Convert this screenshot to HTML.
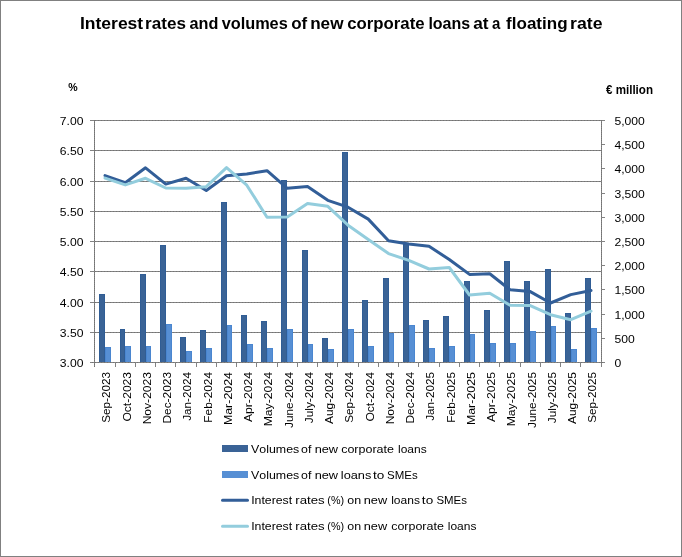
<!DOCTYPE html>
<html><head><meta charset="utf-8"><title>Interest rates and volumes of new corporate loans at a floating rate</title>
<style>html,body{margin:0;padding:0;background:#fff;}svg{display:block;will-change:transform;}text{font-family:'Liberation Sans', Arial, sans-serif;fill:#000;font-kerning:none;}</style></head><body>
<svg width="682" height="557" viewBox="0 0 682 557">
<rect x="0" y="0" width="682" height="557" fill="#fff"/>
<rect x="0.5" y="0.5" width="681" height="556" fill="none" stroke="#808080" stroke-width="1"/>
<path d="M90 120.5H601 M90 150.5H601 M90 181.5H601 M90 211.5H601 M90 241.5H601 M90 271.5H601 M90 302.5H601 M90 332.5H601" stroke="#838383" stroke-width="1" fill="none"/>
<path d="M90 120.5H601 M90 150.5H601 M90 181.5H601 M90 211.5H601 M90 241.5H601 M90 271.5H601 M90 302.5H601 M90 332.5H601" stroke="#737373" stroke-width="1" fill="none" stroke-dasharray="1 2" stroke-dashoffset="1"/>
<rect x="99" y="294" width="6" height="69" fill="#305D95"/><rect x="100" y="295" width="4" height="68" fill="#3A6396"/><rect x="105" y="347" width="6" height="16" fill="#4A86D0"/><rect x="106" y="348" width="4" height="15" fill="#578FD4"/><rect x="120" y="329" width="5" height="34" fill="#305D95"/><rect x="121" y="330" width="3" height="33" fill="#3A6396"/><rect x="125" y="346" width="6" height="17" fill="#4A86D0"/><rect x="126" y="347" width="4" height="16" fill="#578FD4"/><rect x="140" y="274" width="6" height="89" fill="#305D95"/><rect x="141" y="275" width="4" height="88" fill="#3A6396"/><rect x="146" y="346" width="5" height="17" fill="#4A86D0"/><rect x="147" y="347" width="3" height="16" fill="#578FD4"/><rect x="160" y="245" width="6" height="118" fill="#305D95"/><rect x="161" y="246" width="4" height="117" fill="#3A6396"/><rect x="166" y="324" width="6" height="39" fill="#4A86D0"/><rect x="167" y="325" width="4" height="38" fill="#578FD4"/><rect x="180" y="337" width="6" height="26" fill="#305D95"/><rect x="181" y="338" width="4" height="25" fill="#3A6396"/><rect x="186" y="351" width="6" height="12" fill="#4A86D0"/><rect x="187" y="352" width="4" height="11" fill="#578FD4"/><rect x="200" y="330" width="6" height="33" fill="#305D95"/><rect x="201" y="331" width="4" height="32" fill="#3A6396"/><rect x="206" y="348" width="6" height="15" fill="#4A86D0"/><rect x="207" y="349" width="4" height="14" fill="#578FD4"/><rect x="221" y="202" width="6" height="161" fill="#305D95"/><rect x="222" y="203" width="4" height="160" fill="#3A6396"/><rect x="227" y="325" width="5" height="38" fill="#4A86D0"/><rect x="228" y="326" width="3" height="37" fill="#578FD4"/><rect x="241" y="315" width="6" height="48" fill="#305D95"/><rect x="242" y="316" width="4" height="47" fill="#3A6396"/><rect x="247" y="344" width="6" height="19" fill="#4A86D0"/><rect x="248" y="345" width="4" height="18" fill="#578FD4"/><rect x="261" y="321" width="6" height="42" fill="#305D95"/><rect x="262" y="322" width="4" height="41" fill="#3A6396"/><rect x="267" y="348" width="6" height="15" fill="#4A86D0"/><rect x="268" y="349" width="4" height="14" fill="#578FD4"/><rect x="281" y="180" width="6" height="183" fill="#305D95"/><rect x="282" y="181" width="4" height="182" fill="#3A6396"/><rect x="287" y="329" width="6" height="34" fill="#4A86D0"/><rect x="288" y="330" width="4" height="33" fill="#578FD4"/><rect x="302" y="250" width="6" height="113" fill="#305D95"/><rect x="303" y="251" width="4" height="112" fill="#3A6396"/><rect x="308" y="344" width="5" height="19" fill="#4A86D0"/><rect x="309" y="345" width="3" height="18" fill="#578FD4"/><rect x="322" y="338" width="6" height="25" fill="#305D95"/><rect x="323" y="339" width="4" height="24" fill="#3A6396"/><rect x="328" y="349" width="6" height="14" fill="#4A86D0"/><rect x="329" y="350" width="4" height="13" fill="#578FD4"/><rect x="342" y="152" width="6" height="211" fill="#305D95"/><rect x="343" y="153" width="4" height="210" fill="#3A6396"/><rect x="348" y="329" width="6" height="34" fill="#4A86D0"/><rect x="349" y="330" width="4" height="33" fill="#578FD4"/><rect x="362" y="300" width="6" height="63" fill="#305D95"/><rect x="363" y="301" width="4" height="62" fill="#3A6396"/><rect x="368" y="346" width="6" height="17" fill="#4A86D0"/><rect x="369" y="347" width="4" height="16" fill="#578FD4"/><rect x="383" y="278" width="6" height="85" fill="#305D95"/><rect x="384" y="279" width="4" height="84" fill="#3A6396"/><rect x="389" y="333" width="5" height="30" fill="#4A86D0"/><rect x="390" y="334" width="3" height="29" fill="#578FD4"/><rect x="403" y="244" width="6" height="119" fill="#305D95"/><rect x="404" y="245" width="4" height="118" fill="#3A6396"/><rect x="409" y="325" width="6" height="38" fill="#4A86D0"/><rect x="410" y="326" width="4" height="37" fill="#578FD4"/><rect x="423" y="320" width="6" height="43" fill="#305D95"/><rect x="424" y="321" width="4" height="42" fill="#3A6396"/><rect x="429" y="348" width="6" height="15" fill="#4A86D0"/><rect x="430" y="349" width="4" height="14" fill="#578FD4"/><rect x="443" y="316" width="6" height="47" fill="#305D95"/><rect x="444" y="317" width="4" height="46" fill="#3A6396"/><rect x="449" y="346" width="6" height="17" fill="#4A86D0"/><rect x="450" y="347" width="4" height="16" fill="#578FD4"/><rect x="464" y="281" width="6" height="82" fill="#305D95"/><rect x="465" y="282" width="4" height="81" fill="#3A6396"/><rect x="470" y="334" width="5" height="29" fill="#4A86D0"/><rect x="471" y="335" width="3" height="28" fill="#578FD4"/><rect x="484" y="310" width="6" height="53" fill="#305D95"/><rect x="485" y="311" width="4" height="52" fill="#3A6396"/><rect x="490" y="343" width="6" height="20" fill="#4A86D0"/><rect x="491" y="344" width="4" height="19" fill="#578FD4"/><rect x="504" y="261" width="6" height="102" fill="#305D95"/><rect x="505" y="262" width="4" height="101" fill="#3A6396"/><rect x="510" y="343" width="6" height="20" fill="#4A86D0"/><rect x="511" y="344" width="4" height="19" fill="#578FD4"/><rect x="524" y="281" width="6" height="82" fill="#305D95"/><rect x="525" y="282" width="4" height="81" fill="#3A6396"/><rect x="530" y="331" width="6" height="32" fill="#4A86D0"/><rect x="531" y="332" width="4" height="31" fill="#578FD4"/><rect x="545" y="269" width="6" height="94" fill="#305D95"/><rect x="546" y="270" width="4" height="93" fill="#3A6396"/><rect x="551" y="326" width="5" height="37" fill="#4A86D0"/><rect x="552" y="327" width="3" height="36" fill="#578FD4"/><rect x="565" y="313" width="6" height="50" fill="#305D95"/><rect x="566" y="314" width="4" height="49" fill="#3A6396"/><rect x="571" y="349" width="6" height="14" fill="#4A86D0"/><rect x="572" y="350" width="4" height="13" fill="#578FD4"/><rect x="585" y="278" width="6" height="85" fill="#305D95"/><rect x="586" y="279" width="4" height="84" fill="#3A6396"/><rect x="591" y="328" width="6" height="35" fill="#4A86D0"/><rect x="592" y="329" width="4" height="34" fill="#578FD4"/>
<path d="M94.5 120V367 M601.5 120V362.5 M90 362.5H605 M90 120.5H94 M90 150.5H94 M90 181.5H94 M90 211.5H94 M90 241.5H94 M90 271.5H94 M90 302.5H94 M90 332.5H94 M90 362.5H94 M601 120.5H605 M601 144.5H605 M601 168.5H605 M601 193.5H605 M601 217.5H605 M601 241.5H605 M601 265.5H605 M601 289.5H605 M601 314.5H605 M601 338.5H605 M601 362.5H605 M94.5 362V367 M115.5 362V367 M135.5 362V367 M155.5 362V367 M175.5 362V367 M196.5 362V367 M216.5 362V367 M236.5 362V367 M256.5 362V367 M277.5 362V367 M297.5 362V367 M317.5 362V367 M337.5 362V367 M358.5 362V367 M378.5 362V367 M398.5 362V367 M418.5 362V367 M439.5 362V367 M459.5 362V367 M479.5 362V367 M499.5 362V367 M520.5 362V367 M540.5 362V367 M560.5 362V367 M580.5 362V367 M601.5 362V367" stroke="#838383" stroke-width="1" fill="none"/>
<path d="M94.5 120V367M601.5 120V363" stroke="#737373" stroke-width="1" fill="none" stroke-dasharray="1 1"/>
<path d="M90 362.5H605" stroke="#737373" stroke-width="1" fill="none" stroke-dasharray="1 2" stroke-dashoffset="1"/>
<polyline points="105.03,175.6 125.28,182.7 145.53,167.8 165.78,184.1 186.03,178.3 206.28,190.5 226.53,175.8 246.78,173.9 267.02,170.7 287.27,188.3 307.52,186.4 327.77,200.3 348.02,207.2 368.27,219.1 388.52,240.7 408.77,243.9 429.02,246.3 449.27,259.5 469.52,274.4 489.77,273.7 510.02,289.7 530.27,291.6 550.52,303.0 570.77,294.6 591.02,290.5" fill="none" stroke="#325E98" stroke-width="3" stroke-linejoin="round" stroke-linecap="round"/>
<polyline points="105.03,178.1 125.28,184.9 145.53,178.3 165.78,188.0 186.03,188.3 206.28,186.7 226.53,167.6 246.78,185.2 267.02,217.2 287.27,216.9 307.52,203.4 327.77,206.3 348.02,225.2 368.27,239.5 388.52,253.6 408.77,260.4 429.02,269.0 449.27,267.5 469.52,295.0 489.77,293.3 510.02,305.3 530.27,305.6 550.52,314.7 570.77,319.7 591.02,311.2" fill="none" stroke="#93CDDD" stroke-width="3" stroke-linejoin="round" stroke-linecap="round"/>
<g><text x="79.93" y="28.8" font-size="17" font-weight="bold" textLength="63.29" lengthAdjust="spacingAndGlyphs">Interest</text><text x="145.07" y="28.8" font-size="17" font-weight="bold" textLength="40.83" lengthAdjust="spacingAndGlyphs">rates</text><text x="189.52" y="28.8" font-size="17" font-weight="bold" textLength="28.84" lengthAdjust="spacingAndGlyphs">and</text><text x="221.64" y="28.8" font-size="17" font-weight="bold" textLength="66.13" lengthAdjust="spacingAndGlyphs">volumes</text><text x="291.24" y="28.8" font-size="17" font-weight="bold" textLength="16.03" lengthAdjust="spacingAndGlyphs">of</text><text x="310.17" y="28.8" font-size="17" font-weight="bold" textLength="33.30" lengthAdjust="spacingAndGlyphs">new</text><text x="347.25" y="28.8" font-size="17" font-weight="bold" textLength="77.33" lengthAdjust="spacingAndGlyphs">corporate</text><text x="428.38" y="28.8" font-size="17" font-weight="bold" textLength="41.77" lengthAdjust="spacingAndGlyphs">loans</text><text x="473.20" y="28.8" font-size="17" font-weight="bold" textLength="15.31" lengthAdjust="spacingAndGlyphs">at</text><text x="491.92" y="28.8" font-size="17" font-weight="bold" textLength="8.32" lengthAdjust="spacingAndGlyphs">a</text><text x="506.11" y="28.8" font-size="17" font-weight="bold" textLength="61.43" lengthAdjust="spacingAndGlyphs">floating</text><text x="570.14" y="28.8" font-size="17" font-weight="bold" textLength="32.37" lengthAdjust="spacingAndGlyphs">rate</text></g>
<text x="68.2" y="91" font-size="11.5" font-weight="bold" text-anchor="start" textLength="9.40" lengthAdjust="spacingAndGlyphs" xml:space="preserve">%</text>
<text x="606" y="94" font-size="12" font-weight="bold" text-anchor="start" textLength="47.00" lengthAdjust="spacingAndGlyphs" xml:space="preserve">€ million</text>
<text x="83.5" y="125" font-size="11.5" text-anchor="end" textLength="23.64" lengthAdjust="spacingAndGlyphs" xml:space="preserve">7.00</text>
<text x="83.5" y="155" font-size="11.5" text-anchor="end" textLength="23.64" lengthAdjust="spacingAndGlyphs" xml:space="preserve">6.50</text>
<text x="83.5" y="186" font-size="11.5" text-anchor="end" textLength="23.64" lengthAdjust="spacingAndGlyphs" xml:space="preserve">6.00</text>
<text x="83.5" y="216" font-size="11.5" text-anchor="end" textLength="23.64" lengthAdjust="spacingAndGlyphs" xml:space="preserve">5.50</text>
<text x="83.5" y="246" font-size="11.5" text-anchor="end" textLength="23.64" lengthAdjust="spacingAndGlyphs" xml:space="preserve">5.00</text>
<text x="83.5" y="276" font-size="11.5" text-anchor="end" textLength="23.64" lengthAdjust="spacingAndGlyphs" xml:space="preserve">4.50</text>
<text x="83.5" y="307" font-size="11.5" text-anchor="end" textLength="23.64" lengthAdjust="spacingAndGlyphs" xml:space="preserve">4.00</text>
<text x="83.5" y="337" font-size="11.5" text-anchor="end" textLength="23.64" lengthAdjust="spacingAndGlyphs" xml:space="preserve">3.50</text>
<text x="83.5" y="367" font-size="11.5" text-anchor="end" textLength="23.64" lengthAdjust="spacingAndGlyphs" xml:space="preserve">3.00</text>
<text x="614.5" y="125" font-size="11.5" text-anchor="start" textLength="30.36" lengthAdjust="spacingAndGlyphs" xml:space="preserve">5,000</text>
<text x="614.5" y="149" font-size="11.5" text-anchor="start" textLength="30.36" lengthAdjust="spacingAndGlyphs" xml:space="preserve">4,500</text>
<text x="614.5" y="173" font-size="11.5" text-anchor="start" textLength="30.36" lengthAdjust="spacingAndGlyphs" xml:space="preserve">4,000</text>
<text x="614.5" y="198" font-size="11.5" text-anchor="start" textLength="30.36" lengthAdjust="spacingAndGlyphs" xml:space="preserve">3,500</text>
<text x="614.5" y="222" font-size="11.5" text-anchor="start" textLength="30.36" lengthAdjust="spacingAndGlyphs" xml:space="preserve">3,000</text>
<text x="614.5" y="246" font-size="11.5" text-anchor="start" textLength="30.36" lengthAdjust="spacingAndGlyphs" xml:space="preserve">2,500</text>
<text x="614.5" y="270" font-size="11.5" text-anchor="start" textLength="30.36" lengthAdjust="spacingAndGlyphs" xml:space="preserve">2,000</text>
<text x="614.5" y="294" font-size="11.5" text-anchor="start" textLength="30.36" lengthAdjust="spacingAndGlyphs" xml:space="preserve">1,500</text>
<text x="614.5" y="319" font-size="11.5" text-anchor="start" textLength="30.36" lengthAdjust="spacingAndGlyphs" xml:space="preserve">1,000</text>
<text x="614.5" y="343" font-size="11.5" text-anchor="start" textLength="20.27" lengthAdjust="spacingAndGlyphs" xml:space="preserve">500</text>
<text x="614.5" y="367" font-size="11.5" text-anchor="start" textLength="6.77" lengthAdjust="spacingAndGlyphs" xml:space="preserve">0</text>
<text transform="translate(110.33,372) rotate(-90)" font-size="11.5" text-anchor="end" textLength="50.86" lengthAdjust="spacingAndGlyphs">Sep-2023</text>
<text transform="translate(130.58,372) rotate(-90)" font-size="11.5" text-anchor="end" textLength="49.62" lengthAdjust="spacingAndGlyphs">Oct-2023</text>
<text transform="translate(150.83,372) rotate(-90)" font-size="11.5" text-anchor="end" textLength="52.39" lengthAdjust="spacingAndGlyphs">Nov-2023</text>
<text transform="translate(171.08,372) rotate(-90)" font-size="11.5" text-anchor="end" textLength="51.58" lengthAdjust="spacingAndGlyphs">Dec-2023</text>
<text transform="translate(191.33,372) rotate(-90)" font-size="11.5" text-anchor="end" textLength="48.75" lengthAdjust="spacingAndGlyphs">Jan-2024</text>
<text transform="translate(211.58,372) rotate(-90)" font-size="11.5" text-anchor="end" textLength="50.67" lengthAdjust="spacingAndGlyphs">Feb-2024</text>
<text transform="translate(231.83,372) rotate(-90)" font-size="11.5" text-anchor="end" textLength="53.14" lengthAdjust="spacingAndGlyphs">Mar-2024</text>
<text transform="translate(252.08,372) rotate(-90)" font-size="11.5" text-anchor="end" textLength="50.08" lengthAdjust="spacingAndGlyphs">Apr-2024</text>
<text transform="translate(272.32,372) rotate(-90)" font-size="11.5" text-anchor="end" textLength="54.38" lengthAdjust="spacingAndGlyphs">May-2024</text>
<text transform="translate(292.57,372) rotate(-90)" font-size="11.5" text-anchor="end" textLength="56.00" lengthAdjust="spacingAndGlyphs">June-2024</text>
<text transform="translate(312.82,372) rotate(-90)" font-size="11.5" text-anchor="end" textLength="51.16" lengthAdjust="spacingAndGlyphs">July-2024</text>
<text transform="translate(333.07,372) rotate(-90)" font-size="11.5" text-anchor="end" textLength="52.09" lengthAdjust="spacingAndGlyphs">Aug-2024</text>
<text transform="translate(353.32,372) rotate(-90)" font-size="11.5" text-anchor="end" textLength="50.86" lengthAdjust="spacingAndGlyphs">Sep-2024</text>
<text transform="translate(373.57,372) rotate(-90)" font-size="11.5" text-anchor="end" textLength="49.62" lengthAdjust="spacingAndGlyphs">Oct-2024</text>
<text transform="translate(393.82,372) rotate(-90)" font-size="11.5" text-anchor="end" textLength="52.39" lengthAdjust="spacingAndGlyphs">Nov-2024</text>
<text transform="translate(414.07,372) rotate(-90)" font-size="11.5" text-anchor="end" textLength="51.58" lengthAdjust="spacingAndGlyphs">Dec-2024</text>
<text transform="translate(434.32,372) rotate(-90)" font-size="11.5" text-anchor="end" textLength="48.75" lengthAdjust="spacingAndGlyphs">Jan-2025</text>
<text transform="translate(454.57,372) rotate(-90)" font-size="11.5" text-anchor="end" textLength="50.67" lengthAdjust="spacingAndGlyphs">Feb-2025</text>
<text transform="translate(474.82,372) rotate(-90)" font-size="11.5" text-anchor="end" textLength="53.14" lengthAdjust="spacingAndGlyphs">Mar-2025</text>
<text transform="translate(495.07,372) rotate(-90)" font-size="11.5" text-anchor="end" textLength="50.08" lengthAdjust="spacingAndGlyphs">Apr-2025</text>
<text transform="translate(515.32,372) rotate(-90)" font-size="11.5" text-anchor="end" textLength="54.38" lengthAdjust="spacingAndGlyphs">May-2025</text>
<text transform="translate(535.57,372) rotate(-90)" font-size="11.5" text-anchor="end" textLength="56.00" lengthAdjust="spacingAndGlyphs">June-2025</text>
<text transform="translate(555.82,372) rotate(-90)" font-size="11.5" text-anchor="end" textLength="51.16" lengthAdjust="spacingAndGlyphs">July-2025</text>
<text transform="translate(576.07,372) rotate(-90)" font-size="11.5" text-anchor="end" textLength="52.09" lengthAdjust="spacingAndGlyphs">Aug-2025</text>
<text transform="translate(596.32,372) rotate(-90)" font-size="11.5" text-anchor="end" textLength="50.86" lengthAdjust="spacingAndGlyphs">Sep-2025</text>
<rect x="222" y="445" width="26" height="7" fill="#3A6396"/>
<rect x="222" y="471" width="26" height="7" fill="#578FD4"/>
<path d="M222.5 500.3H247.5" stroke="#325E98" stroke-width="3" stroke-linecap="round"/>
<path d="M222.5 526.3H247.5" stroke="#93CDDD" stroke-width="3" stroke-linecap="round"/>
<text x="251.05" y="452.8" font-size="11.8" textLength="48.20" lengthAdjust="spacingAndGlyphs">Volumes</text><text x="301.08" y="452.8" font-size="11.8" textLength="10.30" lengthAdjust="spacingAndGlyphs">of</text><text x="314.65" y="452.8" font-size="11.8" textLength="23.42" lengthAdjust="spacingAndGlyphs">new</text><text x="341.17" y="452.8" font-size="11.8" textLength="52.79" lengthAdjust="spacingAndGlyphs">corporate</text><text x="397.99" y="452.8" font-size="11.8" textLength="28.64" lengthAdjust="spacingAndGlyphs">loans</text>
<text x="251.05" y="478.8" font-size="11.8" textLength="48.20" lengthAdjust="spacingAndGlyphs">Volumes</text><text x="301.08" y="478.8" font-size="11.8" textLength="10.30" lengthAdjust="spacingAndGlyphs">of</text><text x="314.65" y="478.8" font-size="11.8" textLength="23.42" lengthAdjust="spacingAndGlyphs">new</text><text x="340.84" y="478.8" font-size="11.8" textLength="30.52" lengthAdjust="spacingAndGlyphs">loans</text><text x="372.92" y="478.8" font-size="11.8" textLength="11.32" lengthAdjust="spacingAndGlyphs">to</text><text x="387.08" y="478.8" font-size="11.8" textLength="30.64" lengthAdjust="spacingAndGlyphs">SMEs</text>
<text x="251.16" y="504.0" font-size="11.8" textLength="41.03" lengthAdjust="spacingAndGlyphs">Interest</text><text x="295.32" y="504.0" font-size="11.8" textLength="29.35" lengthAdjust="spacingAndGlyphs">rates</text><text x="327.33" y="504.0" font-size="11.8" textLength="16.73" lengthAdjust="spacingAndGlyphs">(%)</text><text x="347.28" y="504.0" font-size="11.8" textLength="13.83" lengthAdjust="spacingAndGlyphs">on</text><text x="363.75" y="504.0" font-size="11.8" textLength="23.42" lengthAdjust="spacingAndGlyphs">new</text><text x="391.19" y="504.0" font-size="11.8" textLength="28.74" lengthAdjust="spacingAndGlyphs">loans</text><text x="421.87" y="504.0" font-size="11.8" textLength="11.32" lengthAdjust="spacingAndGlyphs">to</text><text x="436.38" y="504.0" font-size="11.8" textLength="30.53" lengthAdjust="spacingAndGlyphs">SMEs</text>
<text x="251.16" y="530.0" font-size="11.8" textLength="41.03" lengthAdjust="spacingAndGlyphs">Interest</text><text x="295.32" y="530.0" font-size="11.8" textLength="29.35" lengthAdjust="spacingAndGlyphs">rates</text><text x="327.33" y="530.0" font-size="11.8" textLength="16.73" lengthAdjust="spacingAndGlyphs">(%)</text><text x="347.28" y="530.0" font-size="11.8" textLength="13.83" lengthAdjust="spacingAndGlyphs">on</text><text x="363.75" y="530.0" font-size="11.8" textLength="23.42" lengthAdjust="spacingAndGlyphs">new</text><text x="391.17" y="530.0" font-size="11.8" textLength="52.68" lengthAdjust="spacingAndGlyphs">corporate</text><text x="447.79" y="530.0" font-size="11.8" textLength="28.64" lengthAdjust="spacingAndGlyphs">loans</text>
</svg></body></html>
